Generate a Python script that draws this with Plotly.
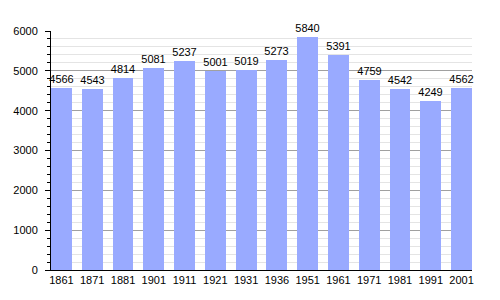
import plotly.graph_objects as go

years = ["1861", "1871", "1881", "1901", "1911", "1921", "1931", "1936",
         "1951", "1961", "1971", "1981", "1991", "2001"]
population = [4566, 4543, 4814, 5081, 5237, 5001, 5019, 5273,
              5840, 5391, 4759, 4542, 4249, 4562]

fig = go.Figure(go.Bar(
    x=years, y=population,
    width=0.68,
    marker=dict(color="#99aaff", line=dict(width=0)),
    text=[str(v) for v in population],
    textposition="outside",
    textfont=dict(family="Liberation Sans, Arial", size=11, color="#000"),
    constraintext="none",
    cliponaxis=False,
))

fig.update_layout(
    width=500, height=300,
    margin=dict(l=51, r=28, t=31, b=30),
    paper_bgcolor="white", plot_bgcolor="white",
    showlegend=False,
    font=dict(family="Liberation Sans, Arial", size=11, color="#000"),
    bargap=0,
)
fig.update_xaxes(
    type="category", range=[-0.34, 13.34],
    showline=True, linecolor="#000", linewidth=1,
    showgrid=False, ticks="", tickfont=dict(size=11),
)
fig.update_yaxes(
    range=[0, 6000], dtick=1000,
    showline=True, linecolor="#000", linewidth=1,
    showgrid=True, gridcolor="#a0a0a0", gridwidth=1,
    ticks="outside", ticklen=5, tickcolor="#000",
    ticklabelstandoff=5,
    tickfont=dict(size=11),
    minor=dict(dtick=200, showgrid=True, gridcolor="#e4e4e4", gridwidth=1,
               ticks="outside", ticklen=3, tickcolor="#000"),
    zeroline=False,
)

fig.write_html("out.html")
